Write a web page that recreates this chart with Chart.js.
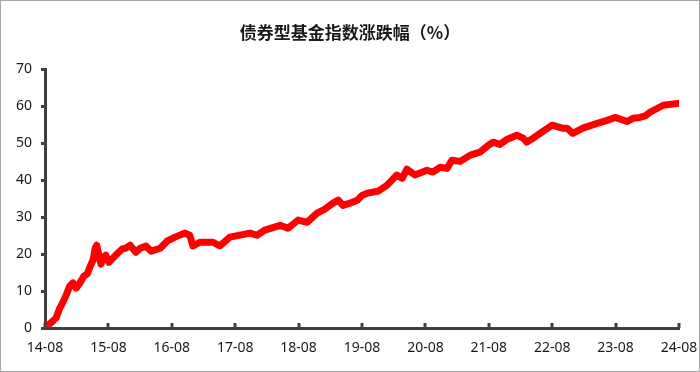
<!DOCTYPE html>
<html>
<head>
<meta charset="utf-8">
<script src="https://cdn.jsdelivr.net/npm/chart.js@4"></script>
<style>
    body { margin: 0; background: #fff; }
    .frame { width: 700px; height: 372px; box-sizing: border-box; border: 1px solid #a6a6a6; }
</style>
</head>
<body>
<div class="frame"><canvas id="bondChart" width="698" height="370"></canvas></div>
<script>
// months since 2014-08, and index change (%)
const months = [0, 0.6, 1.5, 2.1, 2.8, 3.4, 4.0, 4.7, 5.3, 5.9, 6.6, 7.4, 8.0, 8.5, 9.1, 9.5, 9.8, 10.2, 10.6, 11.0,
    11.5, 12.1, 12.9, 13.8, 14.6, 15.3, 16.1, 17.2, 18.0, 19.1, 20.1, 21.8, 23.1, 24.6, 26.5, 27.4, 28.0, 29.3, 31.8, 33.1,
    35.0, 38.8, 40.1, 41.6, 44.5, 46.0, 47.9, 49.6, 51.5, 53.0, 54.5, 55.5, 56.4, 57.7, 59.1, 60.0, 61.0, 63.0, 64.7, 66.6,
    67.6, 68.5, 70.0, 72.3, 73.4, 74.8, 76.1, 77.0, 78.6, 80.5, 82.3, 83.7, 84.8, 86.1, 87.5, 89.3, 90.5, 91.2, 92.4, 93.7,
    96.0, 97.9, 98.8, 99.9, 101.8, 104.5, 106.4, 107.9, 110.2, 111.3, 112.6, 113.6, 114.5, 117.0, 119.8];
const values = [0, 0.8, 1.9, 2.7, 5.4, 7.0, 8.9, 11.4, 12.2, 10.8, 12.2, 14.1, 14.6, 16.5, 18.4, 21.6, 22.4, 19.7, 17.3, 19.0,
    19.7, 17.8, 19.0, 20.3, 21.4, 21.6, 22.4, 20.5, 21.6, 22.2, 20.8, 21.6, 23.5, 24.6, 25.7, 25.1, 22.2, 23.2, 23.2, 22.2,
    24.6, 25.7, 25.1, 26.5, 27.8, 27.0, 29.2, 28.6, 31.1, 32.2, 33.8, 34.6, 33.2, 33.8, 34.6, 35.9, 36.5, 37.0, 38.6, 41.4,
    40.5, 43.0, 41.4, 42.7, 42.2, 43.5, 43.2, 45.4, 45.1, 46.8, 47.6, 49.2, 50.3, 49.7, 51.1, 52.2, 51.4, 50.3, 51.4, 52.7,
    54.9, 54.1, 54.1, 52.7, 54.1, 55.4, 56.2, 57.0, 55.9, 56.8, 57.0, 57.4, 58.4, 60.3, 60.8];
const xTickLabels = ['14-08', '15-08', '16-08', '17-08', '18-08', '19-08', '20-08', '21-08', '22-08', '23-08', '24-08'];

const axisColor = '#404040';

// small tick marks on the x axis pointing up into the plot
const innerTicks = {
    id: 'innerTicks',
    afterDraw(chart) {
        const xs = chart.scales.x;
        const ctx = chart.ctx;
        const bottom = chart.chartArea.bottom;
        ctx.save();
        ctx.strokeStyle = axisColor;
        ctx.lineWidth = 3;
        xs.ticks.forEach(t => {
            const px = Math.round(xs.getPixelForValue(t.value));
            ctx.beginPath();
            ctx.moveTo(px, bottom);
            ctx.lineTo(px, bottom - 5);
            ctx.stroke();
        });
        ctx.restore();
    }
};

new Chart(document.getElementById('bondChart'), {
    type: 'line',
    data: {
        datasets: [{
            data: months.map((m, i) => ({ x: m, y: values[i] })),
            borderColor: '#ff0000',
            borderWidth: 7,
            borderCapStyle: 'round',
            borderJoinStyle: 'round',
            pointRadius: 0,
            tension: 0
        }]
    },
    options: {
        responsive: false,
        animation: false,
        layout: { padding: { left: 0, right: 0, bottom: 0 } },
        plugins: {
            legend: { display: false },
            tooltip: { enabled: false },
            title: {
                display: true,
                text: '债券型基金指数涨跌幅（%）',
                color: '#1a1a1a',
                font: { family: '"Noto Sans CJK SC", sans-serif', size: 17, weight: 'bold' },
                padding: { top: 21, bottom: 27 }
            }
        },
        scales: {
            x: {
                type: 'linear',
                min: 0,
                max: 120,
                afterFit(scale) {
                    scale.height = 43;
                    scale.paddingRight = 20;
                },
                afterBuildTicks(scale) {
                    scale.ticks = xTickLabels.map((_, i) => ({ value: i * 12 }));
                },
                ticks: {
                    autoSkip: false,
                    maxRotation: 0,
                    padding: 12,
                    color: '#1a1a1a',
                    font: { family: '"Noto Sans", sans-serif', size: 14 },
                    callback: (v) => xTickLabels[Math.round(v / 12)]
                },
                grid: { display: false, drawTicks: false },
                border: { display: true, color: axisColor, width: 3 }
            },
            y: {
                min: 0,
                max: 70,
                afterFit(scale) { scale.width = 44; },
                ticks: {
                    stepSize: 10,
                    padding: 9,
                    color: '#1a1a1a',
                    font: { family: '"Noto Sans", sans-serif', size: 14 }
                },
                grid: { drawOnChartArea: false, drawTicks: true, tickLength: 4, color: axisColor, lineWidth: 3 },
                border: { display: true, color: axisColor, width: 3 }
            }
        }
    },
    plugins: [innerTicks]
});
</script>
</body>
</html>
